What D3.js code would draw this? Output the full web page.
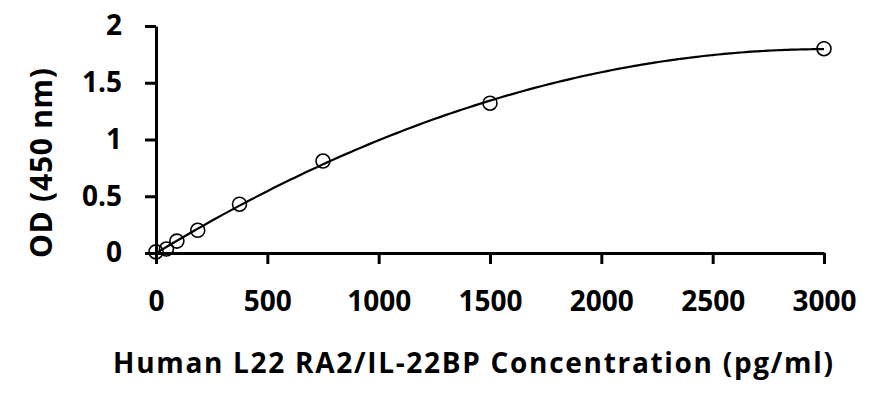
<!DOCTYPE html>
<html>
<head>
<meta charset="utf-8">
<script src="https://cdn.jsdelivr.net/npm/d3@7"></script>
<style>
  body { margin: 0; background: #fff; }
  text { font-family: "Open Sans", "DejaVu Sans", sans-serif; font-weight: 700; fill: #000; }
</style>
</head>
<body>
<svg id="chart"></svg>
<script>
// standard concentrations (pg/ml) and measured OD
const conc = [0, 46.875, 93.75, 187.5, 375, 750, 1500, 3000];
const od = [0.01, 0.035, 0.105, 0.2, 0.43, 0.81, 1.32, 1.8];
const xTicks = [0, 500, 1000, 1500, 2000, 2500, 3000];
const yTicks = [0, 0.5, 1, 1.5, 2];

let width = 871,
  height = 393;
let margin = { top: 26, bottom: 140, left: 156, right: 47 };

let svg = d3.select("#chart").attr("width", width).attr("height", height);

let xScale = d3
  .scaleLinear()
  .domain([0, 3000])
  .range([margin.left, width - margin.right]);

let yScale = d3
  .scaleLinear()
  .domain([0, 2])
  .range([height - margin.bottom, margin.top]);

// polynomial trendline (least squares, order 2) from the standards
function polyFit(xs, ys, order) {
  let n = order + 1;
  let A = [];
  for (let i = 0; i < n; i++) {
    A.push(new Array(n + 1).fill(0));
    for (let j = 0; j < n; j++) {
      A[i][j] = d3.sum(xs, (x) => Math.pow(x, i + j));
    }
    A[i][n] = d3.sum(xs, (x, k) => ys[k] * Math.pow(x, i));
  }
  for (let i = 0; i < n; i++) {
    let p = i;
    for (let r = i + 1; r < n; r++) if (Math.abs(A[r][i]) > Math.abs(A[p][i])) p = r;
    [A[i], A[p]] = [A[p], A[i]];
    for (let r = 0; r < n; r++) {
      if (r == i) continue;
      let f = A[r][i] / A[i][i];
      for (let c = i; c <= n; c++) A[r][c] -= f * A[i][c];
    }
  }
  return A.map((row, i) => row[n] / row[i]);
}

let coef = polyFit(conc, od, 2);
let fitX = d3.range(0, 3001, 25);
let fitLine = d3
  .line()
  .x((d) => xScale(d))
  .y((d) => yScale(d3.sum(coef, (c, i) => c * Math.pow(d, i))))
  .curve(d3.curveMonotoneX);

svg
  .append("path")
  .datum(fitX)
  .attr("d", fitLine)
  .attr("fill", "none")
  .attr("stroke", "#000")
  .attr("stroke-width", 2.2);

// axes
let yAxis = svg
  .append("g")
  .attr("transform", `translate(${margin.left}, 0)`)
  .call(d3.axisLeft(yScale).tickValues(yTicks).tickFormat(d3.format("")).tickSize(11).tickSizeOuter(0).tickPadding(23));

let xAxis = svg
  .append("g")
  .attr("transform", `translate(0, ${height - margin.bottom})`)
  .call(d3.axisBottom(xScale).tickValues(xTicks).tickFormat(d3.format("")).tickSize(11).tickSizeOuter(0).tickPadding(27));

svg.selectAll(".domain, .tick line").attr("stroke", "#000").attr("stroke-width", 3);
svg.selectAll(".tick text").attr("font-size", "28px").attr("font-family", null);

// points
svg
  .selectAll("circle")
  .data(conc)
  .enter()
  .append("circle")
  .attr("cx", (d) => xScale(d))
  .attr("cy", (d, i) => yScale(od[i]))
  .attr("r", 7)
  .attr("fill", "none")
  .attr("stroke", "#000")
  .attr("stroke-width", 1.6);

// titles
svg
  .append("text")
  .attr("x", 473)
  .attr("y", 373)
  .attr("text-anchor", "middle")
  .attr("font-size", "28px")
  .attr("textLength", 720)
  .attr("lengthAdjust", "spacing")
  .text("Human L22 RA2/IL-22BP Concentration (pg/ml)");

svg
  .append("text")
  .attr("transform", "translate(52, 163) rotate(-90)")
  .attr("text-anchor", "middle")
  .attr("font-size", "30px")
  .attr("textLength", 190)
  .attr("lengthAdjust", "spacing")
  .text("OD (450 nm)");
</script>
</body>
</html>
